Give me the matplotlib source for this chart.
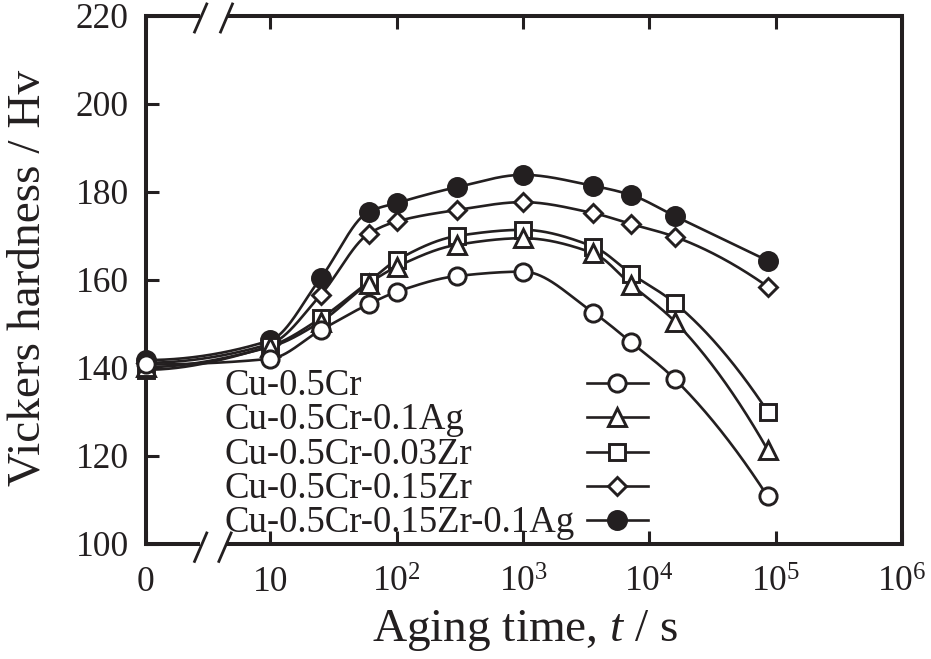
import numpy as np
import matplotlib
matplotlib.use("Agg")
import matplotlib.pyplot as plt
from matplotlib.lines import Line2D

plt.rcParams['font.family'] = ['Liberation Serif', 'DejaVu Serif']
plt.rcParams['mathtext.fontset'] = 'custom'
plt.rcParams['mathtext.rm'] = 'Liberation Serif'
plt.rcParams['mathtext.it'] = 'Liberation Serif:italic'
plt.rcParams['mathtext.bf'] = 'Liberation Serif:bold'

# ---------------- data ----------------
aging_time_s = [0, 10, 25, 60, 100, 300, 1000, 3600, 7200, 16000, 86400]

hv_cu_05cr = [140.8, 142.1, 148.6, 154.5, 157.3, 160.9, 161.9, 152.6, 145.8, 137.4, 110.8]
hv_cu_05cr_01ag = [140.2, 144.8, 150.5, 159.2, 163.0, 168.0, 169.5, 166.1, 158.9, 150.5, 121.4]
hv_cu_05cr_003zr = [139.6, 145.0, 151.3, 159.6, 164.5, 170.0, 171.4, 167.6, 161.4, 154.7, 130.1]
hv_cu_05cr_015zr = [141.2, 145.5, 156.6, 170.5, 173.3, 175.9, 177.7, 175.2, 172.7, 169.8, 158.5]
hv_cu_05cr_015zr_01ag = [141.8, 146.3, 160.4, 175.5, 177.5, 181.1, 183.9, 181.4, 179.3, 174.5, 164.4]

series_labels = ["Cu-0.5Cr", "Cu-0.5Cr-0.1Ag", "Cu-0.5Cr-0.03Zr",
                 "Cu-0.5Cr-0.15Zr", "Cu-0.5Cr-0.15Zr-0.1Ag"]

x_tick_labels = ["0", "10", r"$10^{2}$", r"$10^{3}$", r"$10^{4}$", r"$10^{5}$", r"$10^{6}$"]
y_ticks = [100, 120, 140, 160, 180, 200, 220]

# ---------------- layout constants ----------------
W, H = 931, 659
ax_l, ax_r, ax_t, ax_b = 146, 902, 16, 544
px_dec = 126.0            # pixels per decade
px_ten = 270.0            # pixel of t = 10 s
u_zero = 1.0 - (px_ten - ax_l) / px_dec   # position used for t = 0 (broken axis)
u_max = 6.0
INK = '#231f20'

def to_u(t):
    t = np.asarray(t, dtype=float)
    out = np.empty_like(t)
    pos = t > 0
    out[pos] = np.log10(t[pos])
    out[~pos] = u_zero
    return out

def pchip(x, y, xs):
    x = np.asarray(x, float); y = np.asarray(y, float)
    n = len(x)
    h = np.diff(x)
    delta = np.diff(y) / h
    d = np.zeros(n)
    for k in range(1, n - 1):
        if delta[k - 1] * delta[k] > 0:
            w1 = 2 * h[k] + h[k - 1]
            w2 = h[k] + 2 * h[k - 1]
            d[k] = (w1 + w2) / (w1 / delta[k - 1] + w2 / delta[k])
    def end(h0, h1, d0, d1):
        v = ((2 * h0 + h1) * d0 - h0 * d1) / (h0 + h1)
        if np.sign(v) != np.sign(d0):
            v = 0.0
        elif np.sign(d0) != np.sign(d1) and abs(v) > abs(3 * d0):
            v = 3 * d0
        return v
    d[0] = end(h[0], h[1], delta[0], delta[1])
    d[-1] = end(h[-1], h[-2], delta[-1], delta[-2])
    idx = np.clip(np.searchsorted(x, xs) - 1, 0, n - 2)
    hh = h[idx]
    s = (xs - x[idx]) / hh
    h00 = 2 * s ** 3 - 3 * s ** 2 + 1
    h10 = s ** 3 - 2 * s ** 2 + s
    h01 = -2 * s ** 3 + 3 * s ** 2
    h11 = s ** 3 - s ** 2
    return h00 * y[idx] + h10 * hh * d[idx] + h01 * y[idx + 1] + h11 * hh * d[idx + 1]

fig = plt.figure(figsize=(W / 100, H / 100), dpi=100)
ax = fig.add_axes([ax_l / W, 1 - ax_b / H, (ax_r - ax_l) / W, (ax_b - ax_t) / H])
ax.set_xlim(u_zero, u_max)
ax.set_ylim(100, 220)

lw_axis = 2.9
for s in ['left', 'right']:
    ax.spines[s].set_linewidth(lw_axis)
    ax.spines[s].set_color(INK)
for s in ['top', 'bottom']:
    ax.spines[s].set_visible(False)

# broken top / bottom axis lines
aw = ax_r - ax_l; ah = ax_b - ax_t
ext = 2.0 / aw
gap0 = (200 - ax_l) / aw
gap1 = (227 - ax_l) / aw
for yy in (0, 1):
    ax.plot([-ext, gap0], [yy, yy], transform=ax.transAxes, clip_on=False,
            color=INK, lw=lw_axis, solid_capstyle='butt', zorder=5)
    ax.plot([gap1, 1 + ext], [yy, yy], transform=ax.transAxes, clip_on=False,
            color=INK, lw=lw_axis, solid_capstyle='butt', zorder=5)

def fx(px):
    return (px - ax_l) / aw

def fy(py):
    return (ax_b - py) / ah

for (x1, y1, x2, y2) in [(207.3, 531.7, 194, 562.7), (231.7, 531.7, 218.3, 562.7),
                         (207.3, 2.7, 194, 33.3), (233, 2.7, 220, 33.3)]:
    ax.plot([fx(x1), fx(x2)], [fy(y1), fy(y2)], transform=ax.transAxes,
            clip_on=False, color=INK, lw=2.0, solid_capstyle='butt', zorder=5)

# ticks
xt = [u_zero, 1, 2, 3, 4, 5, 6]
ax.set_xticks(xt)
ax.set_xticklabels(x_tick_labels)
ax.set_yticks(y_ticks)
ax.set_yticklabels([str(v) for v in y_ticks])
ax.tick_params(axis='x', which='both', direction='in', length=9.5, width=2.2,
               top=True, bottom=True, labelsize=25.5, pad=16, color=INK)
ax.tick_params(axis='y', which='both', direction='in', length=9.5, width=2.2,
               left=True, right=False, labelsize=25.5, pad=12.5, color=INK)
for t in ax.get_xticklabels() + ax.get_yticklabels():
    t.set_color(INK)

# data series
all_series = [hv_cu_05cr, hv_cu_05cr_01ag, hv_cu_05cr_003zr,
              hv_cu_05cr_015zr, hv_cu_05cr_015zr_01ag]
styles = [dict(marker='o', ms=12.4, mfc='white'),
          dict(marker='^', ms=12.5, mfc='white'),
          dict(marker='s', ms=11.8, mfc='white'),
          dict(marker='D', ms=9.4, mfc='white'),
          dict(marker='o', ms=13.0, mfc=INK)]

u = to_u(aging_time_s)
us = np.linspace(u_zero, u.max(), 800)
for vals in all_series:
    ax.plot(us, pchip(u, vals, us), color=INK, lw=1.9, zorder=2)

for i in [4, 3, 2, 1, 0]:
    st = styles[i]
    ax.plot(u, all_series[i], linestyle='none', marker=st['marker'],
            markersize=st['ms'], markerfacecolor=st['mfc'],
            markeredgecolor=INK, markeredgewidth=2.1, zorder=3 + (4 - i),
            clip_on=False)

# manual legend
row0 = 383.0
dy = 34.3
for i, lab in enumerate(series_labels):
    yc = row0 + dy * i
    fig.text(224 / W, 1 - (yc + 12) / H, lab, ha='left', va='baseline',
             fontsize=26.5, color=INK)
    fig.add_artist(Line2D([587 / W, 648 / W], [1 - yc / H, 1 - yc / H],
                          transform=fig.transFigure, color=INK, lw=1.9))
    st = styles[i]
    fig.add_artist(Line2D([617 / W], [1 - yc / H], transform=fig.transFigure,
                          linestyle='none', marker=st['marker'], markersize=st['ms'],
                          markerfacecolor=st['mfc'], markeredgecolor=INK,
                          markeredgewidth=2.1))

# axis labels
fig.text(525 / W, 1 - 641 / H, r'Aging time, $t$ / s', ha='center', va='baseline',
         fontsize=34, color=INK)
fig.text(40 / W, 1 - 278 / H, 'Vickers hardness / Hv', rotation=90,
         rotation_mode='anchor', ha='center', va='baseline', fontsize=34,
         color=INK)

fig.savefig('out.png', dpi=100)
